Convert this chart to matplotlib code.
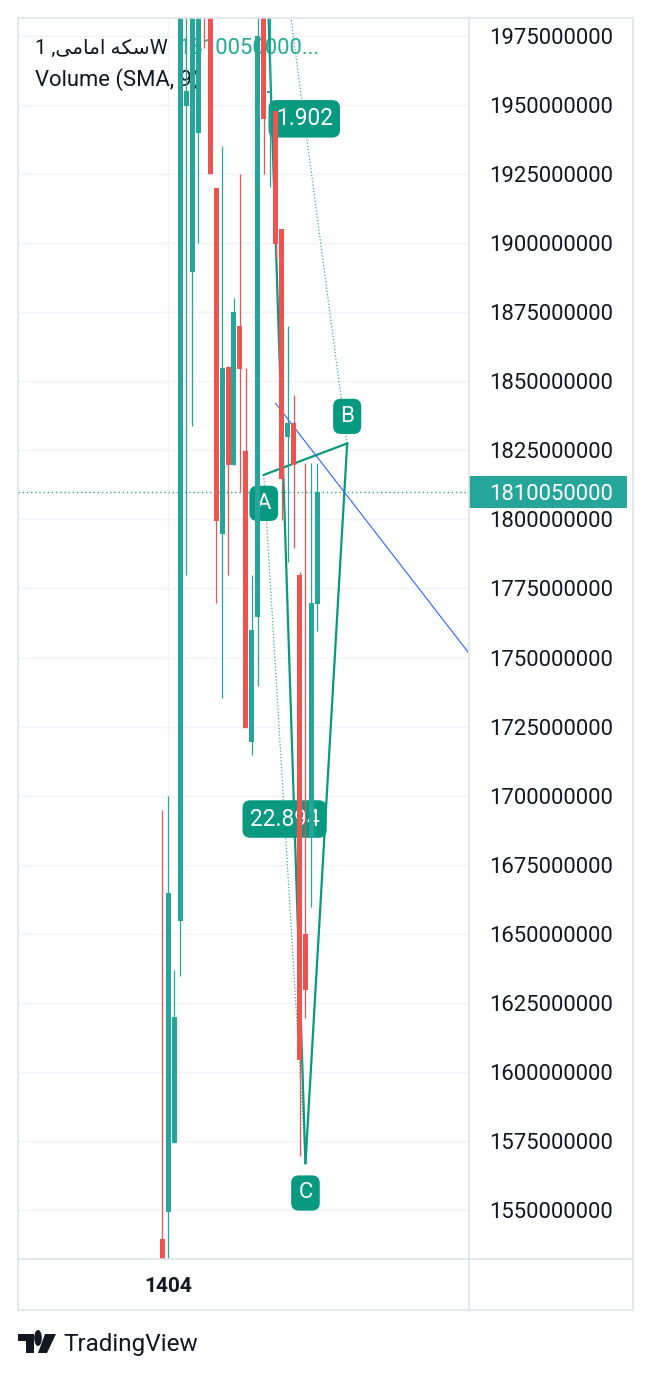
import matplotlib
matplotlib.use("Agg")
import matplotlib.pyplot as plt
import matplotlib.transforms as mtransforms
from matplotlib.patches import Rectangle, Circle, Polygon
from matplotlib.lines import Line2D
from matplotlib.ticker import FuncFormatter

plt.rcParams['font.family'] = ['Roboto', 'DejaVu Sans']

# ---------------- data (prices in millions) ----------------
candle_idx = list(range(27))
opens  = [1539.5, 1549.3, 1574.3, 1654.6, 1949.7, 1889.6, 1939.9, 2010.0, 2000.0,
          1920.0, 1794.8, 1855.2, 1819.7, 1870.0, 1824.8, 1719.4, 1764.7, 1995.0,
          1954.4, 1947.8, 1905.1, 1829.8, 1834.9, 1779.9, 1649.9, 1684.7, 1769.4]
highs  = [1694.8, 1699.9, 1636.9, 2015.0, 2000.0, 2010.0, 2005.0, 2020.0, 2010.0,
          1920.0, 1935.2, 1855.5, 1880.2, 1925.0, 1854.8, 1779.9, 1990.0, 2000.0,
          1990.0, 1947.8, 1905.1, 1870.0, 1845.0, 1781.0, 1820.4, 1820.4, 1820.4]
lows   = [1500.0, 1510.0, 1574.3, 1634.7, 1779.9, 1833.8, 1900.1, 1970.7, 1925.0,
          1769.9, 1735.4, 1779.9, 1819.7, 1809.9, 1724.5, 1714.7, 1739.7, 1925.0,
          1920.3, 1895.0, 1799.8, 1784.6, 1789.7, 1569.6, 1619.5, 1659.7, 1759.6]
closes = [1520.0, 1664.8, 1619.9, 2005.0, 1955.1, 2000.0, 1995.0, 1995.0, 1925.0,
          1799.5, 1854.9, 1819.7, 1875.1, 1854.5, 1724.5, 1760.0, 1975.1, 1945.0,
          1955.0, 1899.7, 1814.6, 1834.9, 1819.7, 1604.3, 1629.6, 1769.7, 1810.05]

last_price = 1810050000
price_ticks = [1550000000, 1575000000, 1600000000, 1625000000, 1650000000,
               1675000000, 1700000000, 1725000000, 1750000000, 1775000000,
               1800000000, 1825000000, 1850000000, 1875000000, 1900000000,
               1925000000, 1950000000, 1975000000]
time_labels = ["1404"]
time_label_idx = [1]

# ABCD pattern points (index, price in millions)
pat_names = ["A", "B", "C", "D"]
pat_x = [17.0, 31.0, 24.0, 16.6]
pat_y = [1816.12, 1827.5, 1567.0, 2062.5]
ratio_AC = "22.894"
ratio_BD = "1.902"

# blue trend line (index, price in millions)
trend_x = [19.0, 51.5]
trend_y = [1842.0, 1751.4]

title_symbol = "1 ," + "\uFBFD\uFEE3\uFE8E\uFEE3\uFE8D \uFEEA\uFB91\uFEB3" + "W"   # "سکه امامی, 1W"
title_value = "1810050000..."
subtitle = "Volume (SMA, 9)"

# ---------------- styling ----------------
UP = '#26a69a'
DN = '#ef5350'
PAT = '#089981'
TXT = '#131722'
GRID = '#f0f3fa'
BORDER = '#e0e3eb'
M = 1e6

W, H = 653, 1377
fig = plt.figure(figsize=(W / 100, H / 100), dpi=100)
fig.patch.set_facecolor('white')


def fx(px):
    return px / W


def fy(py):
    return 1 - py / H


ax = fig.add_axes([fx(18), fy(1259), fx(469) - fx(18), fy(18) - fy(1259)])
ax.set_xlim(-24.25, 51.45)
ax.set_ylim(1532.3 * M, 1981.5 * M)
for s in ax.spines.values():
    s.set_visible(False)
ax.set_xticks([])
ax.yaxis.tick_right()
ax.set_yticks(price_ticks)
ax.yaxis.set_major_formatter(FuncFormatter(lambda v, p: f"{int(round(v))}"))
ax.tick_params(axis='y', length=0, pad=14.4, labelsize=15.9, labelcolor=TXT)
ax.set_axisbelow(True)
ax.grid(axis='y', color=GRID, lw=1)
for ti in time_label_idx:
    ax.axvline(ti, color=GRID, lw=1, zorder=0.5)

# legend text (under candles)
ax.text(fx(35), fy(48), title_symbol, transform=fig.transFigure, fontsize=14.6,
        color=TXT, va='center', ha='left', zorder=1, clip_on=False)
ax.text(fx(178), fy(48), title_value, transform=fig.transFigure, fontsize=15.8,
        color='#22ab94', va='center', ha='left', zorder=1, clip_on=False)
ax.text(fx(35), fy(80), subtitle, transform=fig.transFigure, fontsize=15.8,
        color=TXT, va='center', ha='left', zorder=1, clip_on=False)

# last price dotted line
ax.axhline(last_price, color=UP, lw=1, ls=(0, (1, 2)), zorder=1.5)

# pattern lines
px_ = {n: (x, y * M) for n, x, y in zip(pat_names, pat_x, pat_y)}
for a, b in [("A", "B"), ("B", "C"), ("C", "D")]:
    ax.plot([px_[a][0], px_[b][0]], [px_[a][1], px_[b][1]], color=PAT, lw=1.6, zorder=2)
for a, b in [("A", "C"), ("B", "D")]:
    ax.plot([px_[a][0], px_[b][0]], [px_[a][1], px_[b][1]], color=PAT, lw=0.9,
            ls=(0, (1, 1.6)), alpha=0.8, zorder=2)

# blue trend line
ax.plot(trend_x, [v * M for v in trend_y], color='#2962ff', lw=0.8, zorder=2)

box = dict(boxstyle='round,pad=0.32,rounding_size=0.35', fc=PAT, ec='none')
for n, off in [("A", -20.5), ("B", 19.5), ("C", -21.5)]:
    ax.annotate(n, xy=px_[n], xytext=(0, off), textcoords='offset points',
                ha='center', va='center', color='white', fontsize=16,
                bbox=box, zorder=3, annotation_clip=False)
mid_ac = ((px_["A"][0] + px_["C"][0]) / 2, (px_["A"][1] + px_["C"][1]) / 2)
mid_bd = ((px_["B"][0] + px_["D"][0]) / 2, (px_["B"][1] + px_["D"][1]) / 2)
ax.text(mid_ac[0], mid_ac[1], ratio_AC, ha='center', va='center', color='white',
        fontsize=16.3, bbox=box, zorder=3)
ax.text(mid_bd[0], mid_bd[1], ratio_BD, ha='center', va='center', color='white',
        fontsize=16.3, bbox=box, zorder=3)

# candles
for i, o, h, l, c in zip(candle_idx, opens, highs, lows, closes):
    col = UP if c >= o else DN
    ax.vlines(i, l * M, h * M, color=col, lw=0.9, zorder=4)
    ax.bar(i, abs(c - o) * M, bottom=min(o, c) * M, width=0.84, color=col,
           linewidth=0, zorder=5)

# last price label on the scale
bt = mtransforms.blended_transform_factory(ax.transAxes, ax.transData)
hh = 16 / 2.7624 * M
ax.add_patch(Rectangle((1.0, last_price - hh), 158 / 451, 2 * hh, transform=bt,
                       fc=UP, ec='none', clip_on=False, zorder=6))
ax.text(1 + 20 / 451, last_price, f"{last_price}", transform=bt, ha='left',
        va='center_baseline', color='white', fontsize=15.9, zorder=7, clip_on=False)

# time axis label
tt = mtransforms.blended_transform_factory(ax.transData, fig.transFigure)
for ti, lab in zip(time_label_idx, time_labels):
    ax.text(ti, fy(1286), lab, transform=tt, ha='center', va='center', fontsize=15,
            fontweight='bold', color=TXT, clip_on=False)

# borders
fig.add_artist(Rectangle((fx(18), fy(1310)), fx(633) - fx(18), fy(18) - fy(1310),
                         transform=fig.transFigure, fill=False, ec=BORDER, lw=1.2))
fig.add_artist(Line2D([fx(469), fx(469)], [fy(18), fy(1310)], transform=fig.transFigure,
                      color=BORDER, lw=1.2))
fig.add_artist(Line2D([fx(18), fx(633)], [fy(1259), fy(1259)], transform=fig.transFigure,
                      color=BORDER, lw=1.2))

# TradingView logo
def fp(pts):
    return [(fx(a), fy(b)) for a, b in pts]


fig.add_artist(Polygon(fp([(18, 1334), (34, 1334), (34, 1353), (26, 1353), (26, 1341), (18, 1341)]),
                       closed=True, transform=fig.transFigure, fc=TXT, ec='none'))
fig.add_artist(Circle((fx(38), fy(1338)), 3.8 / W, transform=fig.transFigure, fc=TXT, ec='none'))
fig.add_artist(Polygon(fp([(45, 1334), (56, 1334), (47, 1353), (38, 1353)]),
                       closed=True, transform=fig.transFigure, fc=TXT, ec='none'))
fig.text(fx(63), fy(1344), "TradingView", fontsize=17.5, color=TXT, ha='left', va='center')

fig.savefig("out.png", dpi=100)
